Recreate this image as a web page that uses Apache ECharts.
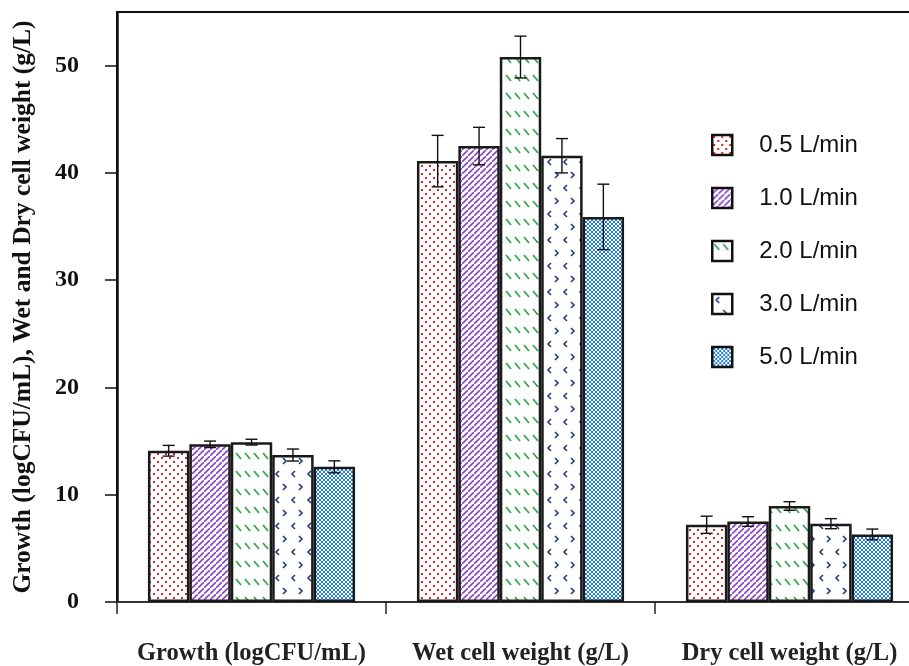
<!DOCTYPE html>
<html>
<head>
<meta charset="utf-8">
<script src="https://cdn.jsdelivr.net/npm/echarts@6/dist/echarts.min.js"></script>
<style>
  html, body { margin: 0; padding: 0; background: #fff; }
  #chart { width: 909px; height: 666px; }
</style>
</head>
<body>
<div id="chart"></div>
<script>
// categories and tick labels
const categories = ['Growth (logCFU/mL)', 'Wet cell weight (g/L)', 'Dry cell weight (g/L)']
const yTicks = [0, 10, 20, 30, 40, 50]
const rates = ['0.5 L/min', '1.0 L/min', '2.0 L/min', '3.0 L/min', '5.0 L/min']

// means per aeration rate (one value per category)
const rate05 = [14.1, 41.1, 7.2]
const rate10 = [14.7, 42.5, 7.5]
const rate20 = [14.9, 50.8, 8.95]
const rate30 = [13.7, 41.6, 7.3]
const rate50 = [12.6, 35.9, 6.3]

// error bar half-widths
const err05 = [0.5, 2.4, 0.8]
const err10 = [0.3, 1.75, 0.45]
const err20 = [0.27, 1.95, 0.4]
const err30 = [0.56, 1.6, 0.47]
const err50 = [0.56, 3.05, 0.5]

const means = [rate05, rate10, rate20, rate30, rate50]
const errs = [err05, err10, err20, err30, err50]

// 图案填充
function makePattern (w, h, draw) {
  const c = document.createElement('canvas')
  c.width = w
  c.height = h
  const ctx = c.getContext('2d')
  ctx.fillStyle = '#fff'
  ctx.fillRect(0, 0, w, h)
  draw(ctx)
  return { image: c, repeat: 'repeat' }
}

const patterns = [
  // red dots
  makePattern(8, 8, ctx => {
    ctx.fillStyle = '#e02424'
    ctx.fillRect(1, 1, 2, 2)
    ctx.fillRect(5, 5, 2, 2)
  }),
  // purple diagonal
  makePattern(6, 6, ctx => {
    ctx.strokeStyle = '#8a45c8'
    ctx.lineWidth = 1.6
    ctx.beginPath()
    ctx.moveTo(-1, 7); ctx.lineTo(7, -1)
    ctx.stroke()
  }),
  // green dashes
  makePattern(9, 18, ctx => {
    ctx.strokeStyle = '#34a64a'
    ctx.lineWidth = 1.8
    ctx.beginPath()
    ctx.moveTo(2, 3); ctx.lineTo(7, 9)
    ctx.stroke()
  }),
  // navy chevrons
  makePattern(16, 26, ctx => {
    ctx.strokeStyle = '#1f3c88'
    ctx.lineWidth = 1.6
    ctx.beginPath()
    ctx.moveTo(7, 3); ctx.lineTo(4, 6); ctx.lineTo(7, 9)
    ctx.moveTo(11, 16); ctx.lineTo(14, 19); ctx.lineTo(11, 22)
    ctx.stroke()
  }),
  // blue lattice
  makePattern(4, 4, ctx => {
    ctx.fillStyle = '#2080d8'
    for (let i = 0; i < 4; i++) {
      ctx.fillRect(i, i, 1, 1)
      ctx.fillRect(3 - i, i, 1, 1)
    }
  })
]

const GAP = 0.23 // barCategoryGap

const barSeries = rates.map((name, i) => ({
  name: name,
  type: 'bar',
  barGap: '0%',
  barCategoryGap: (GAP * 100) + '%',
  data: means[i],
  itemStyle: {
    color: patterns[i],
    borderColor: '#1a1a1a',
    borderWidth: 2.5
  },
  z: 2
}))

const errData = []
means.forEach((arr, s) => {
  arr.forEach((v, c) => {
    errData.push([c, v, errs[s][c], s])
  })
})

const errSeries = {
  type: 'custom',
  z: 5,
  silent: true,
  renderItem: function (params, api) {
    const cat = api.value(0)
    const val = api.value(1)
    const e = api.value(2)
    const s = api.value(3)
    const band = api.size([1, 0])[0]
    const bw = band * (1 - GAP) / rates.length
    const cx = api.coord([cat, val])[0] - band * (1 - GAP) / 2 + bw * (s + 0.5)
    const top = api.coord([cat, val + e])[1]
    const bot = api.coord([cat, val - e])[1]
    const cap = 6
    const st = { stroke: '#111', lineWidth: 1.4 }
    return {
      type: 'group',
      children: [
        { type: 'line', shape: { x1: cx, y1: top, x2: cx, y2: bot }, style: st },
        { type: 'line', shape: { x1: cx - cap, y1: top, x2: cx + cap, y2: top }, style: st },
        { type: 'line', shape: { x1: cx - cap, y1: bot, x2: cx + cap, y2: bot }, style: st }
      ]
    }
  },
  data: errData
}

const myChart = echarts.init(document.getElementById('chart'))
const option = {
  backgroundColor: '#fff',
  animation: false,
  grid: {
    show: true,
    left: 117,
    top: 12,
    right: -15,
    bottom: 64,
    containLabel: false,
    outerBoundsMode: 'none',
    borderColor: '#111',
    borderWidth: 2
  },
  legend: {
    orient: 'vertical',
    left: 706,
    top: 128,
    padding: 5,
    icon: 'rect',
    itemWidth: 20,
    itemHeight: 20,
    itemGap: 29,
    data: rates,
    itemStyle: { borderColor: '#111', borderWidth: 2.5 },
    textStyle: {
      fontFamily: 'Liberation Sans',
      fontSize: 24,
      color: '#111',
      padding: [0, 0, 0, 22]
    }
  },
  xAxis: {
    type: 'category',
    data: categories,
    axisLine: { lineStyle: { color: '#333', width: 2 } },
    axisTick: { show: true, interval: 0, length: 12, lineStyle: { color: '#222', width: 1.5 } },
    axisLabel: {
      interval: 0,
      hideOverlap: false,
      margin: 39,
      fontFamily: 'Liberation Serif',
      fontWeight: 'bold',
      fontSize: 24.5,
      color: '#222'
    }
  },
  yAxis: {
    type: 'value',
    min: 0,
    max: 55,
    interval: 10,
    name: 'Growth (logCFU/mL), Wet and Dry cell weight (g/L)',
    nameLocation: 'middle',
    nameGap: 81,
    nameRotate: 90,
    nameTextStyle: {
      fontFamily: 'Liberation Serif',
      fontWeight: 'bold',
      fontSize: 25.5,
      color: '#111'
    },
    splitLine: { show: false },
    axisLine: { show: true, lineStyle: { color: '#111', width: 2.5 } },
    axisTick: {
      show: true,
      length: 12,
      customValues: yTicks,
      lineStyle: { color: '#111', width: 1.5 }
    },
    axisLabel: {
      margin: 38,
      customValues: yTicks,
      fontFamily: 'Liberation Serif',
      fontWeight: 'bold',
      fontSize: 24,
      color: '#111'
    }
  },
  series: barSeries.concat([errSeries])
}
myChart.setOption(option)
window.onresize = function () {
  myChart.resize()
}
</script>
</body>
</html>
